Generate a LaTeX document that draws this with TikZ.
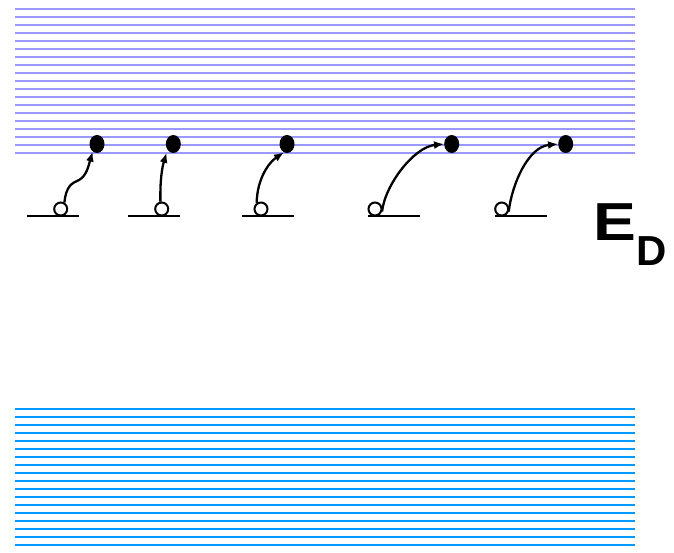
\documentclass[tikz,border=0pt]{standalone}
\usepackage{fontspec}
\setmainfont{Liberation Sans}
\usetikzlibrary{arrows.meta, shapes.geometric}
\definecolor{conduction}{RGB}{153, 153, 255}
\definecolor{valence}{RGB}{0, 153, 255}

\tikzset{
  band/.style={line width=1.9pt},
  level/.style={line width=2.1pt, black},
  hole/.style={circle, draw, line width=2pt, fill=white,
               minimum size=13pt, inner sep=0pt},
  electron/.style={ellipse, fill=black, minimum width=15pt,
                   minimum height=18pt, inner sep=0pt},
  jump/.style={line width=2.3pt, -{Latex[length=10pt, width=8pt]}}
}

\begin{document}
\begin{tikzpicture}[x=1pt, y=-1pt]
  \useasboundingbox (0, 0) rectangle (674, 552);

  % conduction band
  \foreach \k in {0, ..., 18} {
    \draw[band, conduction] (15, 9 + 8 * \k) -- (635, 9 + 8 * \k);
  }

  % valence band
  \foreach \k in {0, ..., 17} {
    \draw[band, valence] (15, 409 + 8 * \k) -- (635, 409 + 8 * \k);
  }

  % donor levels with their empty sites
  \foreach \n/\x/\hx in {1/27/60.7, 2/128/161.7, 3/242/261, 4/368/375, 5/495/501.7} {
    \draw[level] (\x, 216) -- ++(52, 0);
    \node[hole] (h\n) at (\hx, 209) {};
  }

  % electrons up in the band
  \foreach \n/\ex in {1/97, 2/173.3, 3/287, 4/451.7, 5/565.7} {
    \node[electron] (e\n) at (\ex, 144) {};
  }

  \draw[jump] (h1.60) .. controls (66, 186) and (72, 183) .. (79, 180)
                      .. controls (86, 176) and (88, 168) .. (e1.240);
  \draw[jump, shorten >=3pt] (h2.100) .. controls (160, 180) and (162, 168) .. (e2.225);
  \draw[jump] (h3.125) .. controls (257, 180) and (268, 163) .. (e3.250);
  \foreach \n in {4, 5} {
    \draw[jump] (h\n.-20) .. controls +(3, -27) and +(-30, 3) .. (e\n.west);
  }

  \node[anchor=base west, inner sep=0pt, font=\fontsize{53.5}{53.5}\selectfont\bfseries]
    (ED) at (593.6, 240) {\scalebox{1.2}[1]{E}\raisebox{-25pt}{\fontsize{42}{42}\selectfont D}};
\end{tikzpicture}
\end{document}
